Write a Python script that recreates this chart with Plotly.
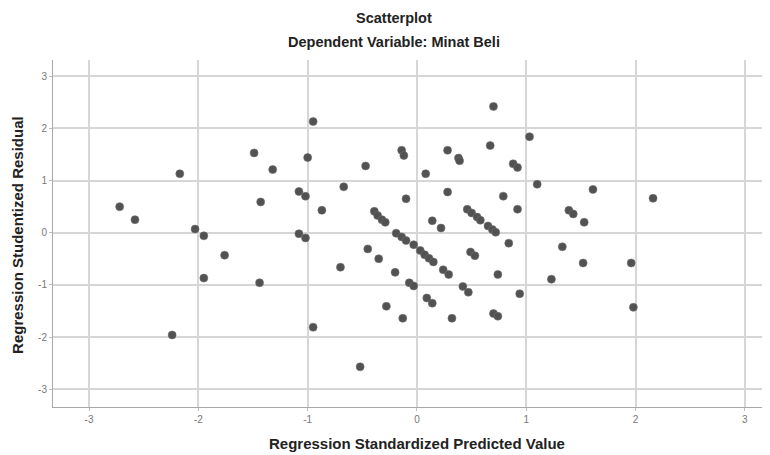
import plotly.graph_objects as go

# Regression Standardized Predicted Value (x) and Studentized Residual (y)
pred = [-2.72, -2.58, -2.24, -2.17, -2.03, -1.95, -1.95, -1.76, -1.49, -1.44,
        -1.43, -1.32, -1.08, -1.02, -1.08, -1.02, -1.00, -0.95, -0.95, -0.87,
        -0.70, -0.67, -0.52, -0.47, -0.45, -0.39, -0.36, -0.32, -0.29, -0.35,
        -0.28, -0.20, -0.14, -0.12, -0.13, -0.10,
        -0.19, -0.14, -0.10, -0.03, 0.03, 0.07, 0.11, 0.15,
        -0.07, -0.03, 0.08, 0.09, 0.14, 0.14, 0.22, 0.24, 0.29, 0.28,
        0.28, 0.32, 0.38, 0.39, 0.42, 0.47, 0.46, 0.50, 0.55, 0.58,
        0.49, 0.53, 0.65, 0.69, 0.72, 0.67, 0.70, 0.70, 0.74, 0.74,
        0.79, 0.84, 0.88, 0.92, 0.92, 0.94, 1.03, 1.10, 1.23, 1.33,
        1.39, 1.43, 1.53, 1.52, 1.61, 1.96, 1.98, 2.16]
resid = [0.50, 0.25, -1.96, 1.13, 0.07, -0.06, -0.87, -0.43, 1.53, -0.96,
         0.59, 1.21, 0.79, 0.70, -0.02, -0.10, 1.44, 2.13, -1.81, 0.43,
         -0.66, 0.88, -2.57, 1.28, -0.31, 0.41, 0.33, 0.25, 0.20, -0.50,
         -1.41, -0.76, 1.58, 1.48, -1.64, 0.65,
         -0.01, -0.08, -0.15, -0.23, -0.34, -0.42, -0.49, -0.56,
         -0.96, -1.02, 1.13, -1.25, -1.35, 0.23, 0.09, -0.71, -0.80, 1.58,
         0.78, -1.64, 1.43, 1.38, -1.03, -1.14, 0.45, 0.38, 0.30, 0.24,
         -0.37, -0.44, 0.13, 0.06, 0.01, 1.67, 2.42, -1.55, -1.60, -0.80,
         0.70, -0.20, 1.32, 1.25, 0.45, -1.17, 1.84, 0.93, -0.89, -0.27,
         0.43, 0.36, 0.20, -0.58, 0.83, -0.58, -1.43, 0.66]

tick_vals = [-3, -2, -1, 0, 1, 2, 3]
tick_text = ["-3", "-2", "-1", "0", "1", "2", "3"]

title_main = "Scatterplot"
title_sub = "Dependent Variable: Minat Beli"
x_title = "Regression Standardized Predicted Value"
y_title = "Regression Studentized Residual"

fig = go.Figure()
fig.add_trace(go.Scatter(
    x=pred, y=resid, mode="markers",
    marker=dict(size=8, color="#525252", line=dict(width=0.6, color="#6e6e6e")),
    showlegend=False, hoverinfo="x+y"))

grid = "#d6d6d6"
axis_common = dict(tickvals=tick_vals, ticktext=tick_text,
                   showgrid=True, gridcolor=grid, gridwidth=1.5, zeroline=False,
                   showline=True, linecolor="#a8a8a8", linewidth=1,
                   ticks="outside", ticklen=3, tickcolor="#c0c0c0",
                   tickfont=dict(size=10, color="#777"), automargin=False)
fig.update_layout(
    width=762, height=447,
    margin=dict(l=45, r=0, t=52, b=48, pad=0),
    paper_bgcolor="white", plot_bgcolor="white",
    font=dict(family="Liberation Sans, Arial, sans-serif", color="#333"),
    xaxis=dict(range=[-3.33, 3.23], **axis_common),
    yaxis=dict(range=[-3.34, 3.31], **axis_common),
    annotations=[
        dict(text="<b>" + title_main + "</b>", xref="paper", yref="paper",
             x=0.4756, y=1.121, xanchor="center", yanchor="middle",
             showarrow=False, font=dict(size=14.5, color="#222")),
        dict(text="<b>" + title_sub + "</b>", xref="paper", yref="paper",
             x=0.4756, y=1.052, xanchor="center", yanchor="middle",
             showarrow=False, font=dict(size=14.5, color="#222")),
        dict(text="<b>" + x_title + "</b>", xref="paper", yref="paper",
             x=0.508, y=-0.1066, xanchor="center", yanchor="middle",
             showarrow=False, font=dict(size=15, color="#222")),
        dict(text="<b>" + y_title + "</b>", xref="paper", yref="paper",
             x=-0.0488, y=0.496, xanchor="center", yanchor="middle",
             textangle=-90, showarrow=False, font=dict(size=15, color="#222")),
    ],
)

fig.write_html("out.html")
